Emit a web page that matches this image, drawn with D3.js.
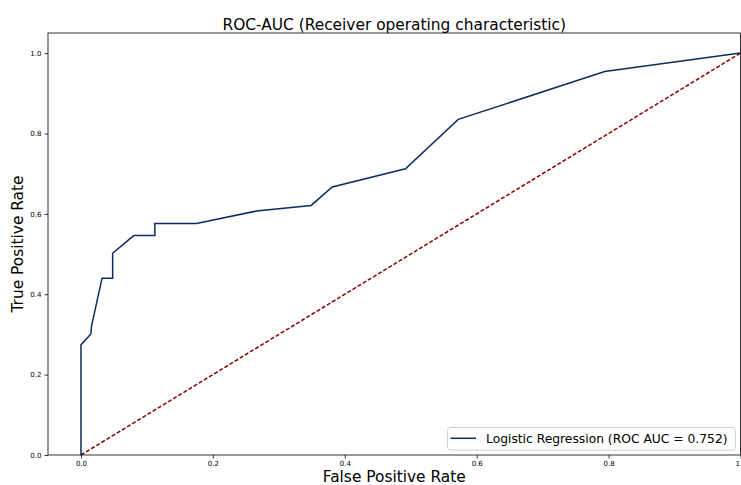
<!DOCTYPE html>
<html><head><meta charset="utf-8">
<script src="https://cdn.jsdelivr.net/npm/d3@7"></script>
<style>body{margin:0;background:#fff;} svg{display:block;font-family:"DejaVu Sans",sans-serif;}</style>
</head><body>
<svg id="c" width="741" height="485"></svg>
<script>
const fpr = [0.0, 0.0, 0.015, 0.016, 0.032, 0.048, 0.048, 0.080, 0.112, 0.112, 0.175, 0.266, 0.349, 0.381, 0.492, 0.572, 0.794, 1.0];
const tpr = [0.0, 0.274, 0.301, 0.321, 0.440, 0.440, 0.502, 0.546, 0.546, 0.576, 0.576, 0.607, 0.621, 0.667, 0.712, 0.835, 0.954, 1.0];
const diagX = [0, 1];
const diagY = [0, 1];
const xTicks = [0.0, 0.2, 0.4, 0.6, 0.8, 1.0];
const yTicks = [0.0, 0.2, 0.4, 0.6, 0.8, 1.0];
const legendLabel = "Logistic Regression (ROC AUC = 0.752)";

const svg = d3.select("#c");
const L = 48, R = 740.5, T = 33, B = 455;
const x = d3.scaleLinear().domain([-0.05, 1.0]).range([L, R]);
const y = d3.scaleLinear().domain([0, 1.05]).range([B, T]);

svg.append("rect").attr("width",741).attr("height",485).attr("fill","#fff");

// curves
const line = d3.line().x(d=>x(d[0])).y(d=>y(d[1]));
svg.append("path").datum(diagX.map((v,i)=>[v,diagY[i]]))
  .attr("d", line).attr("fill","none").attr("stroke","#8b0000")
  .attr("stroke-width",1.5).attr("stroke-dasharray","4,2");
svg.append("path").datum(fpr.map((v,i)=>[v,tpr[i]]))
  .attr("d", line).attr("fill","none").attr("stroke","#0b2d5b")
  .attr("stroke-width",1.5).attr("stroke-linejoin","miter");

// axes
const xa = svg.append("g").attr("transform",`translate(0,${B})`)
  .call(d3.axisBottom(x).tickValues(xTicks).tickFormat(d3.format(".1f")).tickSize(3.5).tickPadding(3));
const ya = svg.append("g").attr("transform",`translate(${L},0)`)
  .call(d3.axisLeft(y).tickValues(yTicks).tickFormat(d3.format(".1f")).tickSize(3.5).tickPadding(3));
[xa, ya].forEach(g=>{
  g.select(".domain").remove();
  g.selectAll("text").attr("font-size",7).attr("fill","#000").attr("font-family","DejaVu Sans");
  g.selectAll("line").attr("stroke","#000").attr("stroke-width",0.8);
});
// spines
svg.append("rect").attr("x",L).attr("y",T).attr("width",R-L).attr("height",B-T)
  .attr("fill","none").attr("stroke","#000").attr("stroke-width",0.8);

// titles
svg.append("text").attr("x",(L+R)/2).attr("y",29.5).attr("text-anchor","middle")
  .attr("font-size",15.4).attr("fill","#000").text("ROC-AUC (Receiver operating characteristic)");
svg.append("text").attr("x",(L+R)/2).attr("y",482).attr("text-anchor","middle")
  .attr("font-size",15.4).attr("fill","#000").text("False Positive Rate");
svg.append("text").attr("transform",`translate(23,${(T+B)/2}) rotate(-90)`).attr("text-anchor","middle")
  .attr("font-size",15.4).attr("fill","#000").text("True Positive Rate");

// legend
const lg = svg.append("g");
lg.append("rect").attr("x",447.5).attr("y",427.5).attr("width",288).attr("height",22.5).attr("rx",3)
  .attr("fill","#fff").attr("fill-opacity",0.8).attr("stroke","#d0d0d0").attr("stroke-width",1);
lg.append("line").attr("x1",450.5).attr("x2",476).attr("y1",438.3).attr("y2",438.3)
  .attr("stroke","#0b2d5b").attr("stroke-width",1.5);
lg.append("text").attr("x",486).attr("y",443).attr("font-size",12.3).attr("fill","#000").text(legendLabel);
</script>
</body></html>
